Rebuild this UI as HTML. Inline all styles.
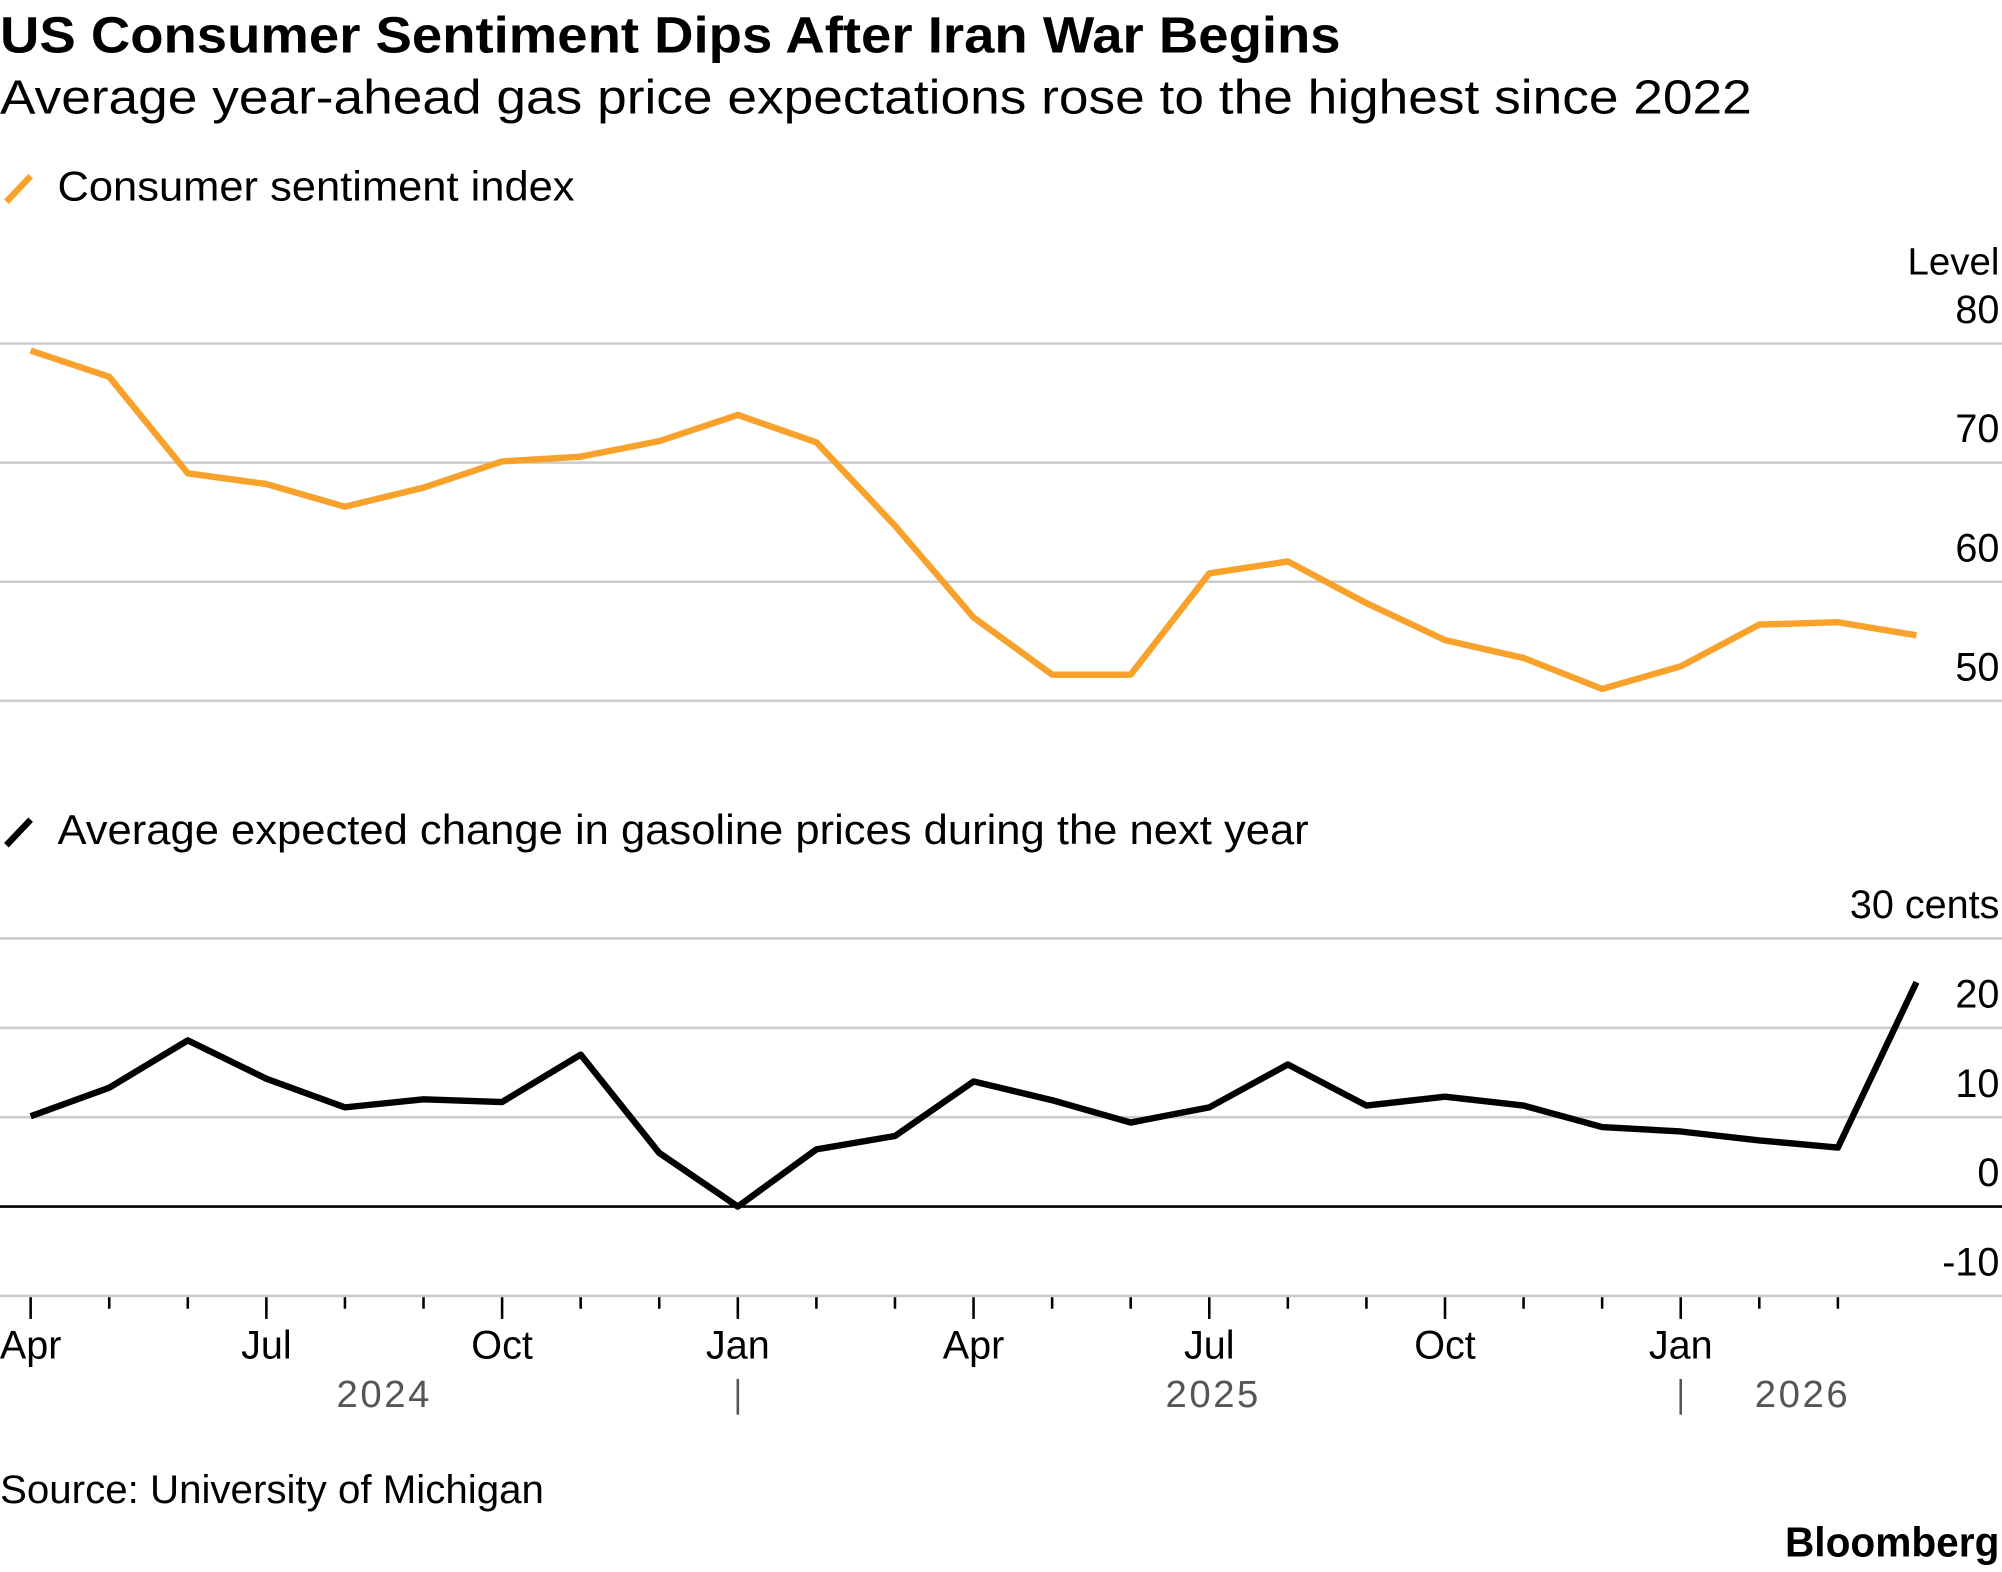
<!DOCTYPE html>
<html><head><meta charset="utf-8"><style>
html,body{margin:0;padding:0;background:#fff;}
svg{display:block;font-family:"Liberation Sans",Arial,sans-serif;}
</style></head><body>
<svg id="chart" width="2002" height="1572" viewBox="0 0 1568 1231.2" xmlns="http://www.w3.org/2000/svg">
<text x="0" y="41" font-size="40" font-weight="bold" textLength="1050" lengthAdjust="spacingAndGlyphs">US Consumer Sentiment Dips After Iran War Begins</text>
<text x="0" y="89" font-size="38" textLength="1372" lengthAdjust="spacingAndGlyphs">Average year-ahead gas price expectations rose to the highest since 2022</text>
<line x1="5" y1="158" x2="24" y2="138" stroke="#f8a12b" stroke-width="5"/>
<text x="45" y="157" font-size="33" textLength="405" lengthAdjust="spacingAndGlyphs">Consumer sentiment index</text>
<line x1="5" y1="662" x2="24" y2="642" stroke="#000" stroke-width="5"/>
<text x="45" y="661" font-size="33" textLength="980" lengthAdjust="spacingAndGlyphs">Average expected change in gasoline prices during the next year</text>
<text x="1566" y="215" font-size="30" text-anchor="end" textLength="72" lengthAdjust="spacingAndGlyphs">Level</text>
<g id="top-grid"></g>
<g id="bot-grid"></g>
<g id="xaxis"></g>
<path id="line-sent" fill="none" stroke="#f8a12b" stroke-width="5" stroke-linejoin="round"/>
<path id="line-gas" fill="none" stroke="#000" stroke-width="5" stroke-linejoin="round"/>
<text x="0" y="1177" font-size="31" textLength="426" lengthAdjust="spacingAndGlyphs">Source: University of Michigan</text>
<text x="1566" y="1219" font-size="33" font-weight="bold" text-anchor="end" textLength="168" lengthAdjust="spacingAndGlyphs">Bloomberg</text>
</svg>
<script>
const months = ["Apr","May","Jun","Jul","Aug","Sep","Oct","Nov","Dec","Jan","Feb","Mar","Apr","May","Jun","Jul","Aug","Sep","Oct","Nov","Dec","Jan","Feb","Mar","Apr"];
const sentiment = [79.4,77.2,69.1,68.2,66.3,67.9,70.1,70.5,71.8,74.0,71.7,64.7,57.0,52.2,52.2,60.7,61.7,58.2,55.1,53.6,51.0,52.9,56.4,56.6,55.5];
const gasChange = [10.1,13.3,18.6,14.3,11.1,12.0,11.7,17.0,6.0,0,6.4,7.9,14.0,11.9,9.4,11.1,15.9,11.3,12.3,11.3,8.9,8.4,7.4,6.6,25.1];
const topTicks = [80,70,60,50];
const botTicks = [30,20,10,0,-10];
const quarterLabels = {0:"Apr",3:"Jul",6:"Oct",9:"Jan",12:"Apr",15:"Jul",18:"Oct",21:"Jan"};
const years = [{label:"2024",i:4.5},{label:"2025",i:15.05},{label:"2026",i:22.55}];
const yearBreaks = [9,21];

const NS="http://www.w3.org/2000/svg";
const x = i => 24 + i*((1501-24)/24);
const yTop = v => 269 + (80-v)*9.33;
const yBot = v => 945 - v*7;
function mk(tag, attrs, parent, text){
  const e=document.createElementNS(NS,tag);
  for(const k in attrs) e.setAttribute(k,attrs[k]);
  if(text!==undefined) e.textContent=text;
  parent.appendChild(e); return e;
}
const tg=document.getElementById('top-grid');
topTicks.forEach(v=>{
  const l=mk('line',{x1:0,x2:1568,y1:yTop(v),y2:yTop(v),stroke:'#ccc','stroke-width':2},tg);
  
  
  const t=mk('text',{x:1566,y:yTop(v)-16,'font-size':31,'text-anchor':'end'},tg,String(v));
  
  
});
const bg=document.getElementById('bot-grid');
botTicks.forEach((v,k)=>{
  const l=mk('line',{x1:0,x2:1568,y1:yBot(v),y2:yBot(v),stroke:v===0?'#000':'#ccc','stroke-width':2},bg);
  
  
  const t=mk('text',{x:1566,y:yBot(v)-16,'font-size':31,'text-anchor':'end'},bg,k===0?v+" cents":String(v));
  
  
});
const xa=document.getElementById('xaxis');
months.forEach((m,i)=>{
  if(i===months.length-1) return;
  const q = quarterLabels[i]!==undefined;
  const tk=mk('line',{x1:x(i),x2:x(i),y1:1016,y2:q?1033:1025,stroke:'#000','stroke-width':2},xa);
  
  
  if(q){
    const t=mk('text',{x:x(i),y:1064,'font-size':31,'text-anchor':'middle'},xa,quarterLabels[i]);
    
    
  }
});
years.forEach(yv=>{
  const t=mk('text',{x:x(yv.i),y:1102,'font-size':30,'text-anchor':'middle',fill:'#555','letter-spacing':'2'},xa,yv.label);
  
  
});
yearBreaks.forEach(i=>{
  const l=mk('line',{x1:x(i),x2:x(i),y1:1080,y2:1108,stroke:'#555','stroke-width':2},xa);
  
  
});
document.getElementById('line-sent').setAttribute('d',sentiment.map((v,i)=>(i?'L':'M')+x(i)+' '+yTop(v)).join(''));
document.getElementById('line-gas').setAttribute('d',gasChange.map((v,i)=>(i?'L':'M')+x(i)+' '+yBot(v)).join(''));
</script>
</body></html>
